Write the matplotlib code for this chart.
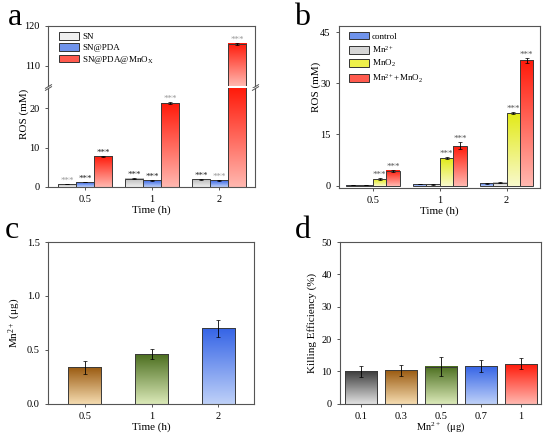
import numpy as np
import matplotlib
matplotlib.use("Agg")
import matplotlib.pyplot as plt
from matplotlib.colors import LinearSegmentedColormap
from matplotlib.patches import Patch

# ---- data ----
time_labels = ["0.5", "1", "2"]

# panel a
sn = [0.75, 2.1, 2.0]
sn_err = [0.05, 0.1, 0.1]
sn_pda = [1.25, 1.7, 1.7]
sn_pda_err = [0.05, 0.1, 0.1]
sn_pda_mnox = [7.75, 21.3, 115.5]
sn_pda_mnox_err = [0.1, 0.2, 0.3]

# panel b
control = [0.1, 0.4, 0.7]
control_err = [0.05, 0.05, 0.1]
mn2 = [0.2, 0.4, 0.9]
mn2_err = [0.1, 0.1, 0.15]
mno2 = [2.0, 8.1, 21.3]
mno2_err = [0.2, 0.2, 0.3]
mix = [4.4, 11.7, 36.7]
mix_err = [0.3, 1.0, 0.8]

# panel c
mn_release = [0.34, 0.46, 0.70]
mn_release_err = [0.06, 0.045, 0.08]

# panel d
doses = ["0.1", "0.3", "0.5", "0.7", "1"]
killing = [10.0, 10.3, 11.5, 11.7, 12.3]
killing_err = [1.8, 1.7, 2.8, 1.9, 1.7]

plt.rcParams.update({
    "font.family": "Liberation Serif",
    "font.size": 7.5,
    "mathtext.fontset": "custom",
    "mathtext.rm": "Liberation Serif",
    "mathtext.default": "regular",
    "axes.linewidth": 0.8,
    "axes.edgecolor": "#555555",
    "xtick.direction": "out",
    "ytick.direction": "out",
    "xtick.major.size": 2.5,
    "ytick.major.size": 2.5,
    "xtick.major.width": 0.7,
    "ytick.major.width": 0.7,
    "xtick.color": "#555555",
    "ytick.color": "#555555",
    "xtick.labelcolor": "black",
    "ytick.labelcolor": "black",
})

GRAD = np.linspace(0, 1, 256).reshape(-1, 1)

GRAY = ("#b8b8b8", "#efefef")
BLUE = ("#3564e6", "#bfd1f8")
RED = ("#ff1a0a", "#ffb8b0")
YELLOW = ("#e2ea18", "#f9f9cc")
BROWN = ("#9a5a10", "#f5dcb0")
GREEN = ("#4b6e1f", "#dbe9b8")
DARK = ("#3c3c3c", "#e2e2e2")


def grad_bars(ax, x, heights, width, cols, ylim):
    cmap = LinearSegmentedColormap.from_list("g", [cols[1], cols[0]])
    bars = ax.bar(x, heights, width, facecolor="none", edgecolor="#3a3a3a",
                  linewidth=0.7, zorder=3)
    for r in bars:
        x0, w = r.get_x(), r.get_width()
        lo = max(r.get_y(), ylim[0])
        hi = min(r.get_y() + r.get_height(), ylim[1])
        if hi <= lo:
            continue
        ax.imshow(GRAD, extent=(x0, x0 + w, lo, hi), origin="lower", cmap=cmap,
                  aspect="auto", zorder=2, interpolation="bilinear")
    return bars


def stars(ax, xs, tops, ylim, color="#222222"):
    for xi, t in zip(xs, tops):
        if ylim[0] < t < ylim[1]:
            ax.annotate("***", (xi, t), xytext=(0, 0.8), textcoords="offset points",
                        ha="center", va="baseline", fontsize=6.5, color=color)


def err(ax, xs, vals, errs):
    ax.errorbar(xs, vals, errs, fmt="none", ecolor="black", elinewidth=0.6,
                capsize=1.5, capthick=0.5, zorder=4)


W, H = 544, 436
fig = plt.figure(figsize=(W / 100, H / 100), dpi=100)


def px_axes(left, top, right, bottom):
    return fig.add_axes([left / W, 1 - bottom / H, (right - left) / W, (bottom - top) / H])


# ---- panel a (broken axis) ----
ax_hi = px_axes(48, 26, 255, 86.5)
ax_lo = px_axes(48, 88.5, 255, 187)
x = np.arange(len(time_labels))
w = 0.27
series_a = [
    (sn, sn_err, GRAY, "SN"),
    (sn_pda, sn_pda_err, BLUE, "SN@PDA"),
    (sn_pda_mnox, sn_pda_mnox_err, RED, "SN@PDA@MnO$_X$"),
]
star_cols_a = [["#999999", "#222222", "#222222"],
               ["#222222", "#222222", "#999999"],
               ["#222222", "#999999", "#999999"]]
for ax, ylim in ((ax_lo, (0, 25)), (ax_hi, (104.8, 120))):
    for i, (vals, errs, cols, lab) in enumerate(series_a):
        xs = x + (i - 1) * w
        grad_bars(ax, xs, vals, w, cols, ylim)
        err(ax, xs, vals, errs)
        tops = np.array(vals) + np.array(errs)
        for j in range(len(xs)):
            stars(ax, [xs[j]], [tops[j]], ylim, star_cols_a[j][i])
    ax.set_xlim(-0.552, 2.537)
    ax.set_ylim(*ylim)

ax_lo.spines["top"].set_visible(False)
ax_hi.spines["bottom"].set_visible(False)
ax_hi.tick_params(bottom=False, labelbottom=False)
ax_hi.set_yticks([110, 120])
ax_lo.set_yticks([0, 10, 20])
ax_lo.set_xticks(x, time_labels)
ax_lo.set_xlabel("Time (h)", fontsize=8, labelpad=1)
fig.text(24 / W, 1 - 114 / H, "ROS (mM)", rotation=90, ha="center", va="center", fontsize=8)

kw = dict(marker=[(-1, -0.6), (1, 0.6)], markersize=5, linestyle="none",
          color="#555555", mec="#555555", mew=0.7, clip_on=False)
ax_lo.plot([0, 1], [1, 1], transform=ax_lo.transAxes, **kw)
ax_hi.plot([0, 1], [0, 0], transform=ax_hi.transAxes, **kw)

handles = [Patch(facecolor=GRAY[1], edgecolor="#333333", linewidth=0.7),
           Patch(facecolor="#6f93ec", edgecolor="#333333", linewidth=0.7),
           Patch(facecolor="#ff5a4e", edgecolor="#333333", linewidth=0.7)]
ax_hi.legend(handles, [s[3] for s in series_a], loc="upper left",
             bbox_to_anchor=(0.055, 0.9), frameon=False, fontsize=6.5,
             handlelength=2.2, handleheight=0.95, labelspacing=0.2,
             handletextpad=0.3, borderpad=0, borderaxespad=0)

# ---- panel b ----
ax_b = px_axes(339, 26, 540, 187.7)
wb = 0.2
series_b = [
    (control, control_err, BLUE, "control"),
    (mn2, mn2_err, GRAY, "Mn$^{2+}$"),
    (mno2, mno2_err, YELLOW, "MnO$_2$"),
    (mix, mix_err, RED, "Mn$^{2+}$+MnO$_2$"),
]
ylim_b = (-0.6, 46.8)
for i, (vals, errs, cols, lab) in enumerate(series_b):
    xs = x + (i - 1.5) * wb
    grad_bars(ax_b, xs, vals, wb, cols, ylim_b)
    err(ax_b, xs, vals, errs)
    if i >= 2:
        stars(ax_b, xs, np.array(vals) + np.array(errs), ylim_b, "#555555")
ax_b.set_xlim(-0.51, 2.5)
ax_b.set_ylim(*ylim_b)
ax_b.set_yticks([0, 15, 30, 45])
ax_b.set_xticks(x, time_labels)
ax_b.set_xlabel("Time (h)", fontsize=8, labelpad=1)
fig.text(316 / W, 1 - 87 / H, "ROS (mM)", rotation=90, ha="center", va="center", fontsize=8)
handles_b = [Patch(facecolor="#6f93ec", edgecolor="#333333", linewidth=0.7),
             Patch(facecolor="#d6d6d6", edgecolor="#333333", linewidth=0.7),
             Patch(facecolor="#eef04a", edgecolor="#333333", linewidth=0.7),
             Patch(facecolor="#ff5a4e", edgecolor="#333333", linewidth=0.7)]
ax_b.legend(handles_b, [s[3] for s in series_b], loc="upper left",
            bbox_to_anchor=(0.05, 0.965), frameon=False, fontsize=6.5,
            handlelength=2.2, handleheight=0.95, labelspacing=0.35,
            handletextpad=0.3, borderpad=0, borderaxespad=0)

# ---- panel c ----
ax_c = px_axes(48, 242, 254, 403.7)
ylim_c = (0, 1.5)
for xi, v, e, cols in zip(x, mn_release, mn_release_err, [BROWN, GREEN, BLUE]):
    grad_bars(ax_c, [xi], [v], 0.5, cols, ylim_c)
    err(ax_c, [xi], [v], [e])
ax_c.set_xlim(-0.552, 2.537)
ax_c.set_ylim(*ylim_c)
ax_c.set_yticks([0, 0.5, 1.0, 1.5])
ax_c.set_xticks(x, time_labels)
ax_c.set_xlabel("Time (h)", fontsize=8, labelpad=1)
ax_c.set_ylabel("Mn$^{2+}$ (μg)", fontsize=8, labelpad=3)

# ---- panel d ----
ax_d = px_axes(340, 242, 541, 403.7)
ylim_d = (0, 50)
xd = np.arange(len(doses))
for xi, v, e, cols in zip(xd, killing, killing_err, [DARK, BROWN, GREEN, BLUE, RED]):
    grad_bars(ax_d, [xi], [v], 0.8, cols, ylim_d)
    err(ax_d, [xi], [v], [e])
ax_d.set_xlim(-0.52, 4.5)
ax_d.set_ylim(*ylim_d)
ax_d.set_yticks([0, 10, 20, 30, 40, 50])
ax_d.set_xticks(xd, doses)
ax_d.set_xlabel("Mn$^{2+}$  (μg)", fontsize=7.5, labelpad=-1)
ax_d.set_ylabel("Killing Efficiency (%)", fontsize=8, labelpad=3)

# panel letters
for lx, ly, s in ((8, 25, "a"), (294, 25, "b"), (5, 238, "c"), (295, 238, "d")):
    fig.text(lx / W, 1 - ly / H, s, fontsize=23, va="baseline", ha="left")

fig.savefig("out.png", dpi=100)
